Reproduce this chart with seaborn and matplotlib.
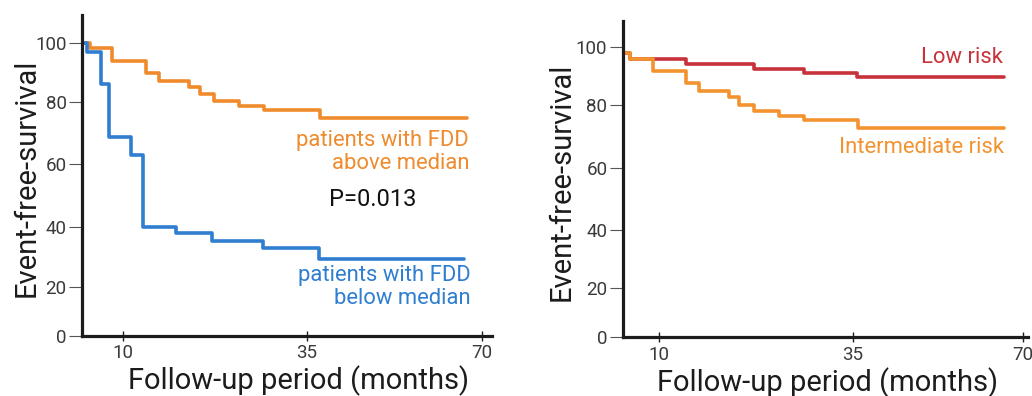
import numpy as np
import matplotlib
matplotlib.use("Agg")
import matplotlib.pyplot as plt
import seaborn as sns

# ---- survival data (months, % event-free) ----
fdd_above_t = [0, 5.4, 8.5, 13.1, 14.9, 18.9, 20.4, 22.4, 25.8, 29.2, 37.7, 67.0]
fdd_above_s = [100, 98.1, 93.9, 89.6, 87.1, 85.1, 82.5, 80.2, 78.7, 77.3, 74.7, 74.7]

fdd_below_t = [0, 5.0, 7.0, 8.1, 11.05, 12.7, 17.2, 22.1, 29.0, 37.4, 66.5]
fdd_below_s = [100, 96.7, 85.9, 68.8, 63.0, 40.1, 37.9, 35.4, 32.9, 29.2, 29.2]

low_risk_t = [0, 6.2, 13.5, 22.3, 28.7, 36.0, 66.1]
low_risk_s = [97.9, 95.8, 94.1, 92.4, 90.9, 89.8, 89.8]

inter_risk_t = [0, 6.2, 9.15, 13.5, 15.1, 19.0, 20.3, 22.3, 25.5, 28.7, 36.2, 66.1]
inter_risk_s = [97.9, 95.8, 91.7, 87.5, 85.0, 82.9, 80.1, 78.2, 76.7, 75.3, 72.6, 72.6]

x_ticks = [10, 35, 70]
y_ticks = [0, 20, 40, 60, 80, 100]
p_value_label = "P=0.013"

sns.set_theme(style="white")
plt.rcParams["font.family"] = ["Roboto", "DejaVu Sans"]


def piecewise_scale(knots_in, knots_out):
    """Piecewise-linear axis scale through the given knots, extrapolated linearly."""
    ki = np.asarray(knots_in, float)
    ko = np.asarray(knots_out, float)

    def make(a, b):
        def f(v):
            v = np.asarray(v, float)
            out = np.interp(v, a, b)
            lo_slope = (b[1] - b[0]) / (a[1] - a[0])
            hi_slope = (b[-1] - b[-2]) / (a[-1] - a[-2])
            out = np.where(v < a[0], b[0] + (v - a[0]) * lo_slope, out)
            out = np.where(v > a[-1], b[-1] + (v - a[-1]) * hi_slope, out)
            return out
        return f

    return make(ki, ko), make(ko, ki)


fig = plt.figure(figsize=(10.32, 3.96), dpi=100)
axL = fig.add_axes([82 / 1032, 1 - 336 / 396, 410 / 1032, 321 / 396])
axR = fig.add_axes([622.7 / 1032, 1 - 337.3 / 396, 405.3 / 1032, 316.6 / 396])

ORANGE = "#EF8B2C"
BLUE = "#2F7ED0"
RED = "#C8323A"
ORANGE_R = "#F29330"
INK = "#1c1c1c"
TICK_TXT = "#3a3a3a"

lw = 2.6

# left panel
sns.lineplot(x=fdd_above_t, y=fdd_above_s, ax=axL, color=ORANGE, lw=lw,
             drawstyle="steps-post", sort=True, estimator=None)
sns.lineplot(x=fdd_below_t, y=fdd_below_s, ax=axL, color=BLUE, lw=lw,
             drawstyle="steps-post", sort=True, estimator=None)

# right panel
sns.lineplot(x=low_risk_t, y=low_risk_s, ax=axR, color=RED, lw=lw,
             drawstyle="steps-post", sort=True, estimator=None)
sns.lineplot(x=inter_risk_t, y=inter_risk_s, ax=axR, color=ORANGE_R, lw=lw,
             drawstyle="steps-post", sort=True, estimator=None)

axis_cfg = [
    # ax, x knots (pixels), y knots (pixels), xlim, ylim
    (axL, [0, 183.4, 358.4], [0, 49.3, 109, 171.7, 234.3, 293.3], (4.37, 72.0), (0, 109.4)),
    (axR, [0, 193.4, 364.0], [0, 49, 107.3, 169.6, 232, 290.6], (5.27, 71.0), (0, 108.9)),
]

for ax, xk, yk, xlim, ylim in axis_cfg:
    fx, ix = piecewise_scale(x_ticks, xk)
    fy, iy = piecewise_scale(y_ticks, yk)
    ax.set_xscale("function", functions=(fx, ix))
    ax.set_yscale("function", functions=(fy, iy))
    ax.set_xlim(*xlim)
    ax.set_ylim(*ylim)
    ax.set_xticks(x_ticks)
    ax.set_xticklabels([str(v) for v in x_ticks])
    ax.set_yticks(y_ticks)
    ax.set_yticklabels([str(v) for v in y_ticks])
    ax.minorticks_off()
    for side in ("top", "right"):
        ax.spines[side].set_visible(False)
    for side in ("left", "bottom"):
        ax.spines[side].set_color(INK)
        ax.spines[side].set_linewidth(2.3)
        ax.spines[side].set_capstyle("projecting")
    ax.tick_params(axis="y", direction="out", length=9.5, width=0.8,
                   color="#555555", labelcolor=TICK_TXT, labelsize=13.5, pad=1.5, left=True)
    ax.tick_params(axis="x", direction="inout", length=7, width=1.0,
                   color=INK, labelcolor=TICK_TXT, labelsize=13.5, pad=2.5, bottom=True)
    ax.set_ylabel("Event-free-survival", fontsize=21, color=INK)
    ax.set_xlabel("Follow-up period (months)", fontsize=21, color=INK)
    ax.set_facecolor("white")
    ax.grid(False)

axL.yaxis.set_label_coords(-0.102, 0.494)
axL.xaxis.set_label_coords(0.529, -0.092)
axR.yaxis.set_label_coords(-0.115, 0.49)
axR.xaxis.set_label_coords(0.505, -0.095)

txt = dict(fontsize=15.8, ha="right", va="center", multialignment="right", linespacing=1.1)
axL.text(0.944, 0.573, "patients with FDD\nabove median", color=ORANGE,
         transform=axL.transAxes, **txt)
axL.text(0.949, 0.153, "patients with FDD\nbelow median", color=BLUE,
         transform=axL.transAxes, **txt)
axL.text(0.708, 0.424, p_value_label, color="#111111", fontsize=17,
         ha="center", va="center", transform=axL.transAxes)

axR.text(0.938, 0.885, "Low risk", color=RED, transform=axR.transAxes, **txt)
axR.text(0.941, 0.601, "Intermediate risk", color=ORANGE_R, transform=axR.transAxes, **txt)

fig.savefig("out.png", dpi=100, facecolor="white")
